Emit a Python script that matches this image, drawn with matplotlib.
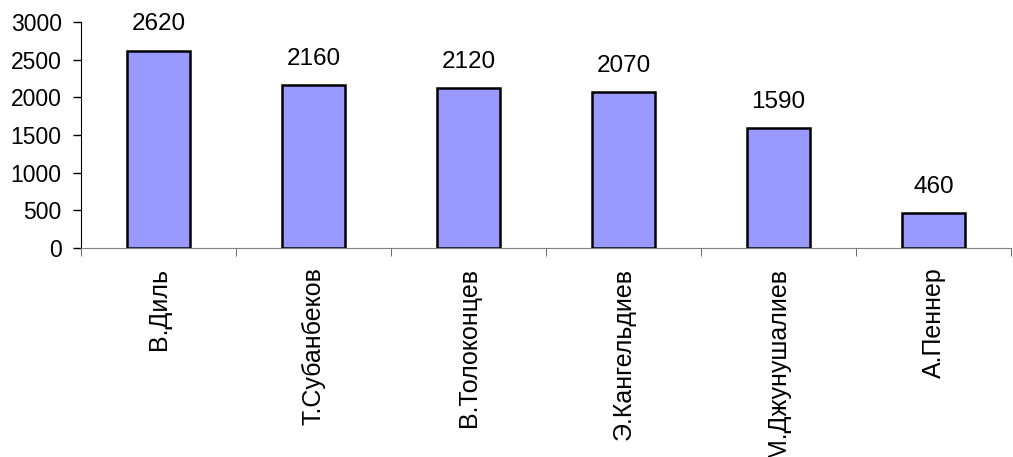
import numpy as np
import matplotlib.pyplot as plt

names = ["В.Диль", "Т.Субанбеков", "В.Толоконцев", "Э.Кангельдиев", "М.Джунушалиев", "А.Пеннер"]
values = [2620, 2160, 2120, 2070, 1590, 460]

plt.rcParams['font.family'] = ['Liberation Sans', 'DejaVu Sans']

fig = plt.figure(figsize=(10.13, 4.57), dpi=100)
ax = fig.add_axes([0.08, 0.457, 0.918, 0.495])

x = np.arange(len(names))
ax.bar(x, values, width=0.41, color='#9999FF', edgecolor='black', linewidth=1.8, zorder=3)
for xi, v in zip(x, values):
    ax.annotate(str(v), (xi, v), xytext=(0, 11), textcoords='offset points',
                ha='center', va='bottom', fontsize=17.5)

ax.set_xlim(-0.5, len(names) - 0.5)
ax.set_ylim(0, 3000)
ax.set_yticks(np.arange(0, 3001, 500))
ax.tick_params(axis='y', labelsize=16.5, direction='out', length=6, width=1, pad=8)

ax.set_xticks(x)
ax.set_xticklabels(names, rotation=90, fontsize=18)
ax.tick_params(axis='x', length=0, pad=14)
ax.set_xticks(np.arange(-0.5, len(names), 1), minor=True)
ax.tick_params(axis='x', which='minor', length=6, direction='out', color='#555555')

ax.spines['top'].set_visible(False)
ax.spines['right'].set_visible(False)
ax.spines['bottom'].set_color('#808080')
ax.spines['left'].set_color('black')

fig.savefig('out.png', dpi=100)
